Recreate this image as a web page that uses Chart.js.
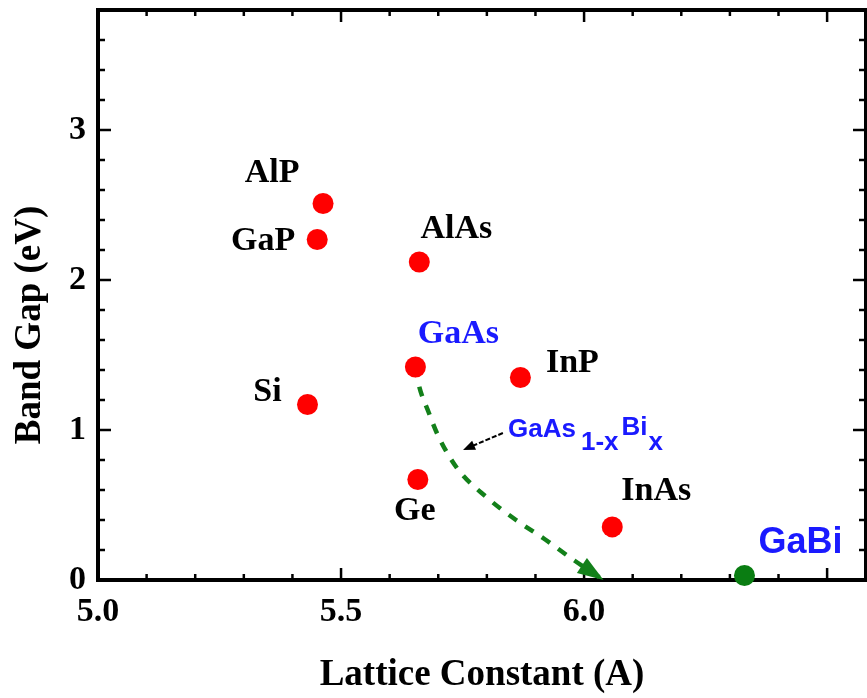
<!DOCTYPE html>
<html>
<head>
<meta charset="utf-8">
<title>Band Gap vs Lattice Constant</title>
<script src="https://cdn.jsdelivr.net/npm/chart.js@4.4.1/dist/chart.umd.min.js"></script>
<style>
    html, body { margin: 0; padding: 0; background: #fff; }
    #wrap { width: 867px; height: 698px; }
</style>
</head>
<body>
<div id="wrap"><canvas id="gapChart"></canvas></div>
<script>
// Semiconductors: lattice constant (A) vs band gap (eV)
const materials = ['AlP', 'GaP', 'AlAs', 'GaAs', 'InP', 'Si', 'Ge', 'InAs'];
const latticeConst = [5.463, 5.451, 5.661, 5.653, 5.869, 5.431, 5.658, 6.058];
const bandGap = [2.51, 2.27, 2.12, 1.42, 1.35, 1.17, 0.67, 0.354];

// GaBi end member
const gabiLattice = [6.33];
const gabiGap = [0.03];

// GaAs(1-x)Bi(x) alloy trend, from GaAs down to the zero-gap crossing
const alloyLattice = [5.653, 5.66, 5.68, 5.70, 5.74, 5.80, 5.86, 5.92, 5.98, 6.04];
const alloyGap = [1.42, 1.30, 1.12, 0.96, 0.74, 0.55, 0.40, 0.27, 0.13, 0.0];

// Axis tick labels
const xTickLabels = ['5.0', '5.5', '6.0', '6.5'];
const yTickLabels = ['0', '1', '2', '3'];

const SERIF = '"Liberation Serif", "Times New Roman", serif';
const SANS = '"Liberation Sans", Arial, sans-serif';

// label offsets (px) from each marker: [dx, dy to baseline]
const labelOffsets = {
    AlP: [-51, -22], GaP: [-54, 10], AlAs: [37, -24], GaAs: [43, -24],
    InP: [52, -6], Si: [-40, -4], Ge: [-3, 40], InAs: [44, -27]
};

function findLabel(list, value) {
    const hit = list.find(s => Math.abs(parseFloat(s) - value) < 1e-6);
    return hit === undefined ? '' : hit;
}

function strokeLine(ctx, x1, y1, x2, y2) {
    ctx.beginPath();
    ctx.moveTo(x1, y1);
    ctx.lineTo(x2, y2);
    ctx.stroke();
}

function arrowHead(ctx, tx, ty, ang, len, half) {
    ctx.beginPath();
    ctx.moveTo(tx, ty);
    ctx.lineTo(tx - len * Math.cos(ang) + half * Math.sin(ang), ty - len * Math.sin(ang) - half * Math.cos(ang));
    ctx.lineTo(tx - len * Math.cos(ang) - half * Math.sin(ang), ty - len * Math.sin(ang) + half * Math.cos(ang));
    ctx.closePath();
    ctx.fill();
}

// Box frame with inward ticks on all four sides
const framePlugin = {
    id: 'framePlugin',
    beforeDatasetsDraw(chart) {
        const { ctx, chartArea: a, scales: { x, y } } = chart;
        ctx.save();
        ctx.strokeStyle = '#000';
        ctx.lineWidth = 2.5;
        for (let i = 0; i * 0.1 <= x.max - 5.0 + 1e-9; i++) {
            const px = x.getPixelForValue(5.0 + i * 0.1);
            const len = i % 5 === 0 ? 12 : 6;
            strokeLine(ctx, px, a.bottom, px, a.bottom - len);
            strokeLine(ctx, px, a.top, px, a.top + len);
        }
        for (let i = 0; i * 0.2 <= y.max + 1e-9; i++) {
            const py = y.getPixelForValue(i * 0.2);
            const len = i % 5 === 0 ? 13 : 7;
            strokeLine(ctx, a.left, py, a.left + len, py);
            strokeLine(ctx, a.right, py, a.right - len, py);
        }
        ctx.lineWidth = 4;
        ctx.strokeRect(a.left, a.top, a.right - a.left, a.bottom - a.top);
        ctx.restore();
    }
};

// Material names, alloy annotation, arrowheads and y title
const labelPlugin = {
    id: 'labelPlugin',
    afterDatasetsDraw(chart) {
        const { ctx, chartArea: a, scales: { x, y } } = chart;
        ctx.save();
        ctx.textAlign = 'center';
        ctx.textBaseline = 'alphabetic';

        materials.forEach((name, i) => {
            const px = x.getPixelForValue(latticeConst[i]);
            const py = y.getPixelForValue(bandGap[i]);
            const [dx, dy] = labelOffsets[name];
            ctx.font = 'bold 34px ' + SERIF;
            ctx.fillStyle = name === 'GaAs' ? '#1a1aff' : '#000';
            ctx.fillText(name, px + dx, py + dy);
        });

        // GaBi label
        ctx.font = 'bold 36px ' + SANS;
        ctx.fillStyle = '#1a1aff';
        ctx.fillText('GaBi', x.getPixelForValue(gabiLattice[0]) + 56, y.getPixelForValue(gabiGap[0]) - 23);

        // arrowhead at the end of the alloy curve
        const n = alloyLattice.length;
        const tx = x.getPixelForValue(alloyLattice[n - 1]);
        const ty = y.getPixelForValue(alloyGap[n - 1]);
        const bx = x.getPixelForValue(alloyLattice[n - 2]);
        const by = y.getPixelForValue(alloyGap[n - 2]);
        ctx.fillStyle = '#13801a';
        arrowHead(ctx, tx, ty, Math.atan2(ty - by, tx - bx), 26, 9);

        // GaAs(1-x)Bi(x) callout arrow
        const ax1 = x.getPixelForValue(5.833), ay1 = y.getPixelForValue(0.98);
        const ax2 = x.getPixelForValue(5.751), ay2 = y.getPixelForValue(0.867);
        const aa = Math.atan2(ay2 - ay1, ax2 - ax1);
        ctx.strokeStyle = '#000';
        ctx.lineWidth = 2;
        ctx.setLineDash([5, 2]);
        strokeLine(ctx, ax1, ay1, ax2 - 8 * Math.cos(aa), ay2 - 8 * Math.sin(aa));
        ctx.setLineDash([]);
        ctx.fillStyle = '#000';
        arrowHead(ctx, ax2, ay2, aa, 12, 5);

        // GaAs 1-x Bi x with sub/superscripts
        ctx.textAlign = 'left';
        ctx.fillStyle = '#1a1aff';
        ctx.font = 'bold 26px ' + SANS;
        let cx = x.getPixelForValue(5.8436);
        const base = y.getPixelForValue(0.953);
        ctx.fillText('GaAs', cx, base);
        cx += ctx.measureText('GaAs').width + 5;
        ctx.fillText('1-x', cx, base + 13);
        cx += ctx.measureText('1-x').width + 3;
        ctx.fillText('Bi', cx, base - 2);
        cx += ctx.measureText('Bi').width + 1;
        ctx.fillText('x', cx, base + 13);

        // y axis title
        ctx.translate(30, (a.top + a.bottom) / 2 + 30);
        ctx.rotate(-Math.PI / 2);
        ctx.textAlign = 'center';
        ctx.textBaseline = 'middle';
        ctx.font = 'bold 37px ' + SERIF;
        ctx.fillStyle = '#000';
        ctx.fillText('Band Gap (eV)', 0, 0);
        ctx.restore();
    }
};

const ctx = document.getElementById('gapChart').getContext('2d');
new Chart(ctx, {
    type: 'scatter',
    data: {
        datasets: [{
            label: 'Semiconductors',
            data: latticeConst.map((v, i) => ({ x: v, y: bandGap[i] })),
            backgroundColor: '#ff0000',
            borderWidth: 0,
            pointRadius: 10.5,
            order: 0
        }, {
            label: 'GaBi',
            data: gabiLattice.map((v, i) => ({ x: v, y: gabiGap[i] })),
            backgroundColor: '#0a7d12',
            borderWidth: 0,
            pointRadius: 10.5,
            clip: false,
            order: 1
        }, {
            label: 'GaAs1-xBix',
            data: alloyLattice.map((v, i) => ({ x: v, y: alloyGap[i] })),
            showLine: true,
            borderColor: '#13801a',
            borderWidth: 4.5,
            borderDash: [10, 10],
            cubicInterpolationMode: 'monotone',
            pointRadius: 0,
            clip: false,
            order: 2
        }]
    },
    options: {
        responsive: true,
        maintainAspectRatio: false,
        animation: false,
        layout: { autoPadding: false, padding: { top: 10, right: 1, left: 0, bottom: 0 } },
        plugins: {
            legend: { display: false },
            tooltip: { enabled: false }
        },
        scales: {
            x: {
                type: 'linear',
                min: 5.0,
                max: 6.58,
                border: { display: false },
                grid: { display: false, drawTicks: false },
                ticks: {
                    stepSize: 0.1,
                    autoSkip: false,
                    maxRotation: 0,
                    padding: 12,
                    color: '#000',
                    font: { family: SERIF, size: 34, weight: 'bold' },
                    callback: v => findLabel(xTickLabels, v)
                },
                title: {
                    display: true,
                    text: 'Lattice Constant (A)',
                    color: '#000',
                    font: { family: SERIF, size: 37, weight: 'bold' },
                    padding: { top: 0, bottom: 0 }
                },
                afterFit: s => {
                    s.height = 118;
                    s.paddingLeft = 0;
                    s.paddingRight = 0;
                }
            },
            y: {
                type: 'linear',
                min: 0,
                max: 3.8,
                border: { display: false },
                grid: { display: false, drawTicks: false },
                ticks: {
                    stepSize: 0.2,
                    autoSkip: false,
                    padding: 12,
                    color: '#000',
                    font: { family: SERIF, size: 34, weight: 'bold' },
                    callback: v => findLabel(yTickLabels, v)
                },
                afterFit: s => {
                    s.width = 98;
                    s.paddingTop = 0;
                    s.paddingBottom = 0;
                }
            }
        }
    },
    plugins: [framePlugin, labelPlugin]
});
</script>
</body>
</html>
